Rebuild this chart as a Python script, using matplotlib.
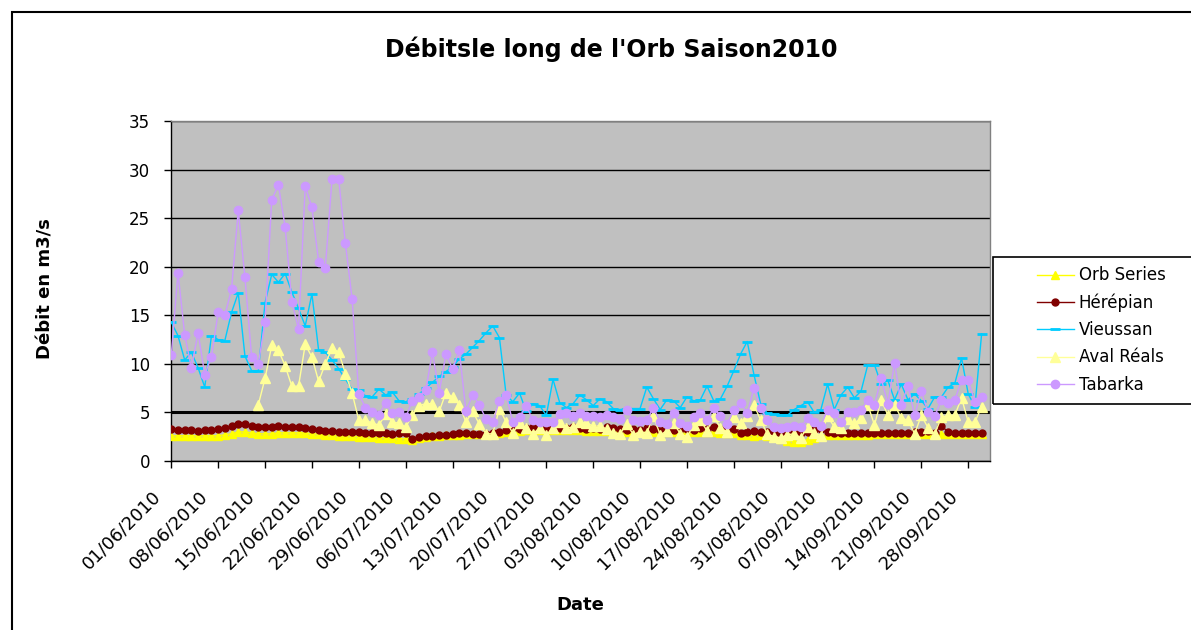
import numpy as np
import pandas as pd
import matplotlib
matplotlib.use('Agg')
import matplotlib.pyplot as plt
import matplotlib.transforms as mtransforms
from matplotlib.patches import Rectangle

# daily flows, 01/06/2010 -> 30/09/2010 (m3/s)
orb_series = [
    2.6, 2.6, 2.6, 2.6, 2.6, 2.6, 2.6, 2.6, 2.7, 2.8,
    3.0, 3.0, 2.9, 2.8, 2.8, 2.8, 2.9, 2.9, 2.9, 2.9,
    2.9, 2.8, 2.8, 2.7, 2.7, 2.6, 2.6, 2.6, 2.5, 2.5,
    2.5, 2.4, 2.4, 2.4, 2.3, 2.3, 2.2, 2.4, 2.5, 2.6,
    2.6, 2.7, 2.7, 2.7, 2.8, 2.8, 2.8, 2.8, 2.9, 2.9,
    3.0, 3.1, 3.1, 3.2, 3.2, 3.2, 3.2, 3.2, 3.2, 3.2,
    3.2, 3.2, 3.1, 3.1, 3.1, 3.1, 3.0, 3.0, 3.0, 3.0,
    3.0, 3.0, 3.0, 3.0, 3.0, 3.0, 3.0, 3.0, 3.0, 3.0,
    3.0, 3.0, 2.9, 2.9, 2.9, 2.7, 2.7, 2.6, 2.7, 2.6,
    2.5, 2.3, 2.1, 2.0, 2.0, 2.2, 2.4, 2.6, 2.7, 2.7,
    2.7, 2.7, 2.7, 2.7, 2.7, 2.8, 2.8, 2.8, 2.8, 2.8,
    2.8, 2.8, 2.8, 2.8, 2.8, 2.8, 2.8, 2.8, 2.8, 2.8,
    2.8, 2.8,
]

herepian = [
    3.3, 3.2, 3.2, 3.2, 3.1, 3.2, 3.2, 3.3, 3.4, 3.6,
    3.8, 3.8, 3.6, 3.5, 3.5, 3.5, 3.6, 3.5, 3.5, 3.5,
    3.4, 3.3, 3.2, 3.1, 3.1, 3.0, 3.0, 3.0, 3.0, 2.9,
    2.9, 2.9, 2.9, 2.8, 2.9, 2.9, 2.3, 2.5, 2.6, 2.6,
    2.7, 2.7, 2.8, 2.9, 2.9, 2.8, 2.8, 2.8, 2.9, 3.0,
    3.2, 3.4, 3.3, 3.4, 3.5, 3.4, 3.3, 3.4, 3.4, 3.4,
    3.5, 3.4, 3.3, 3.4, 3.3, 3.5, 3.4, 3.3, 3.2, 3.3,
    3.2, 3.4, 3.3, 3.2, 3.3, 3.2, 3.3, 3.3, 3.2, 3.4,
    3.3, 3.5, 3.3, 3.2, 3.3, 2.9, 3.0, 3.1, 3.0, 3.0,
    2.9, 2.8, 2.8, 2.9, 2.9, 3.0, 3.2, 3.3, 3.0, 2.9,
    2.9, 2.9, 2.9, 2.9, 2.9, 2.9, 2.9, 2.9, 2.9, 2.9,
    2.9, 3.0, 3.0, 3.1, 2.9, 3.6, 3.0, 2.9, 2.9, 2.9,
    2.9, 2.9,
]

vieussan = [
    14.3, 12.9, 10.4, 11.2, 9.6, 7.6, 12.9, 12.5, 12.4, 15.3,
    17.3, 10.8, 9.3, 9.3, 16.3, 19.2, 18.4, 19.3, 17.4, 15.7,
    13.9, 17.2, 11.4, 11.2, 10.4, 9.5, 8.4, 7.4, 7.3, 6.7,
    6.6, 7.4, 6.8, 7.1, 6.2, 6.1, 6.4, 6.9, 7.5, 8.1,
    8.7, 9.2, 9.7, 10.5, 11.0, 11.7, 12.4, 13.2, 13.9, 12.7,
    6.8, 6.1, 7.0, 5.1, 5.9, 5.7, 4.7, 8.4, 6.0, 5.5,
    5.9, 6.8, 6.3, 5.7, 6.4, 6.1, 5.4, 5.3, 5.4, 5.4,
    5.4, 7.6, 6.4, 5.3, 6.3, 6.2, 5.5, 6.6, 6.2, 6.3,
    7.7, 6.2, 6.4, 7.7, 9.3, 11.0, 12.3, 8.9, 5.9, 4.9,
    4.8, 4.7, 4.7, 5.3, 5.7, 6.1, 5.0, 5.3, 7.9, 5.3,
    6.8, 7.6, 6.5, 7.2, 9.9, 9.9, 7.9, 8.3, 6.3, 7.9,
    6.3, 6.9, 6.2, 5.4, 6.6, 6.6, 7.6, 8.0, 10.6, 6.9,
    5.6, 13.1,
]

aval_reals = [None] * 13 + [
    5.8, 8.5, 11.9, 11.4, 9.8, 7.7, 7.7,
    12.0, 10.7, 8.2, 10.0, 11.6, 11.2, 9.0, 7.0, 4.2, 4.2,
    3.9, 3.7, 4.8, 4.0, 3.9, 3.5, 4.7, 5.7, 5.9, 5.9,
    5.1, 7.0, 6.6, 5.8, 4.0, 5.1, 3.8, 2.8, 2.8, 5.4,
    4.0, 2.9, 3.9, 3.4, 2.8, 3.4, 2.7, 3.4, 4.0, 3.4,
    3.5, 4.0, 3.9, 3.6, 3.6, 3.3, 2.9, 2.8, 3.8, 2.7,
    3.0, 2.9, 4.6, 2.7, 3.1, 3.9, 2.8, 2.5, 3.7, 4.2,
    3.1, 4.6, 3.4, 3.0, 4.5, 3.9, 4.6, 5.8, 4.2, 2.8,
    2.5, 2.4, 2.7, 2.8, 2.4, 3.5, 2.9, 2.6, 4.6, 3.5,
    3.4, 4.3, 3.9, 4.4, 5.8, 3.7, 6.3, 4.7, 5.8, 4.4,
    4.2, 2.8, 4.7, 3.4, 2.8, 4.5, 4.7, 4.7, 6.5, 4.0,
    4.0, 5.6,
]

tabarka = [
    10.9, 19.4, 13.0, 9.6, 13.2, 8.9, 10.7, 15.3, 15.0, 17.7,
    25.8, 18.9, 10.7, 10.0, 14.3, 26.9, 28.4, 24.1, 16.4, 13.6,
    28.3, 26.1, 20.5, 19.9, 29.0, 29.0, 22.4, 16.7, 6.9, 5.5,
    5.0, 4.7, 6.0, 4.9, 5.0, 4.5, 6.2, 6.6, 7.3, 11.2,
    7.0, 11.0, 9.5, 11.4, 5.1, 6.8, 5.8, 4.3, 4.0, 6.2,
    6.8, 4.0, 4.5, 5.7, 4.2, 4.0, 4.0, 4.0, 4.8, 4.9,
    4.6, 4.9, 4.6, 4.6, 4.5, 4.7, 4.5, 4.3, 5.2, 4.2,
    4.1, 4.2, 5.5, 4.0, 3.8, 4.9, 3.9, 3.6, 4.5, 4.9,
    4.2, 5.5, 4.6, 3.8, 5.3, 6.0, 4.9, 7.5, 5.5, 4.2,
    3.5, 3.4, 3.5, 3.6, 3.5, 4.4, 4.0, 3.6, 5.3, 4.9,
    4.0, 5.0, 5.0, 5.3, 6.3, 5.8, 8.5, 5.9, 10.1, 5.8,
    7.7, 4.7, 7.2, 5.0, 4.6, 6.3, 6.0, 6.3, 8.3, 8.3,
    6.1, 6.6,
]

labels = ['Orb Series', 'Hérépian', 'Vieussan', 'Aval Réals', 'Tabarka']
colors = ['#FFFF00', '#800000', '#00CCFF', '#FFFF99', '#CC99FF']

dates = pd.date_range('2010-06-01', periods=len(tabarka), freq='D')

plt.rcParams['font.family'] = ['DejaVu Sans']

W, H = 1191, 630
fig = plt.figure(figsize=(W / 100, H / 100), dpi=100)
ax = fig.add_axes([171 / W, 1 - 461 / H, (990 - 171) / W, 340 / H])
ax.set_facecolor('#C0C0C0')

styles = [
    dict(marker='^', ms=6),
    dict(marker='o', ms=5),
    dict(marker='_', ms=7, mew=2),
    dict(marker='^', ms=7),
    dict(marker='o', ms=6),
]
all_series = [orb_series, herepian, vieussan, aval_reals, tabarka]

handles = []
for vals, lab, col, st in zip(all_series, labels, colors, styles):
    y = np.array(vals, dtype=float)
    h, = ax.plot(dates, y, color=col, lw=1, mec=col, mfc=col, label=lab,
                 zorder=3, **st)
    handles.append(h)

# y axis
ax.set_ylim(0, 35)
ax.set_yticks(range(0, 36, 5))
ax.yaxis.grid(True, color='black', lw=1)
ax.set_axisbelow(True)
ax.axhline(5, color='black', lw=2.2, zorder=1.5)
ax.tick_params(axis='y', length=5, width=1, pad=10, labelsize=12)

# x axis
ax.set_xlim(dates[0] - pd.Timedelta(hours=1), dates[0] + pd.Timedelta(days=122.25))
ticks = dates[::7]
ax.set_xticks(ticks)
ax.set_xticklabels([d.strftime('%d/%m/%Y') for d in ticks], rotation=45, ha='right')
ax.tick_params(axis='x', length=5, width=1, pad=14, labelsize=13)
offset = mtransforms.ScaledTranslation(-0.07, 0, fig.dpi_scale_trans)
for lbl in ax.get_xticklabels():
    lbl.set_transform(lbl.get_transform() + offset)

for side in ['left', 'bottom']:
    ax.spines[side].set_color('black')
    ax.spines[side].set_linewidth(1)
for side in ['top', 'right']:
    ax.spines[side].set_color('#808080')
    ax.spines[side].set_linewidth(1)

# texts
fig.text(611.5 / W, 1 - 49 / H, "Débitsle long de l'Orb Saison2010",
         fontsize=17, fontweight='bold', ha='center', va='center')
fig.text(45 / W, 1 - 289 / H, 'Débit en m3/s', rotation=90,
         fontsize=13, fontweight='bold', ha='center', va='center')
fig.text(580 / W, 1 - 605 / H, 'Date', fontsize=13, fontweight='bold',
         ha='center', va='center')

# legend
fig.legend(handles, labels, loc='center left',
           bbox_to_anchor=(1037 / W, 1 - 330 / H), frameon=False,
           fontsize=12, handlelength=2.2, handletextpad=0.3,
           labelspacing=0.55, borderpad=0, borderaxespad=0, numpoints=1)
fig.patches.append(Rectangle((993 / W, 1 - 404 / H), 0.3, 147 / H,
                             transform=fig.transFigure, fill=False,
                             ec='black', lw=1.2))

# chart area border
fig.patches.append(Rectangle((12 / W, -0.1), 1.2, 1 - 12 / H + 0.1,
                             transform=fig.transFigure, fill=False,
                             ec='black', lw=1.5))

fig.savefig('out.png', dpi=100)
